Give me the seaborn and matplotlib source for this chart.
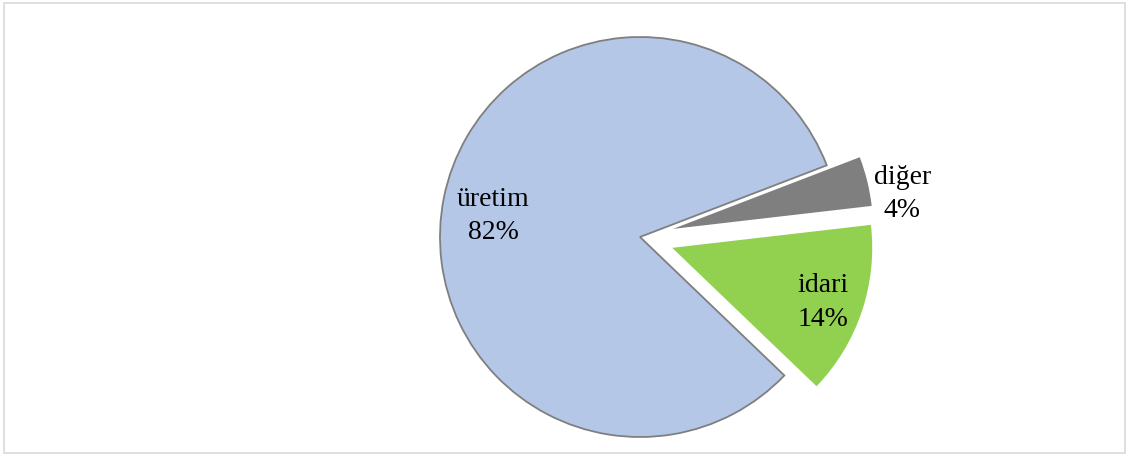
import numpy as np
import matplotlib
matplotlib.use("Agg")
import matplotlib.pyplot as plt
import seaborn as sns
from matplotlib.patches import Rectangle

# veriler
labels = ["üretim", "idari", "diğer"]
values = [82, 14, 4]
colors = ["#b4c7e7", "#92d050", "#7f7f7f"]
explode = [0, 0.17, 0.17]
label_dist = [0.74, 0.80, 1.16]
label_rot = [3.3, -1.3, -5.2]   # etiket açısı düzeltmesi (derece)

sns.set_theme(style="white")
plt.rcParams["font.family"] = ["Liberation Serif", "DejaVu Serif"]

W, H, dpi = 1127, 455, 100
fig = plt.figure(figsize=(W / dpi, H / dpi), dpi=dpi)
ax = fig.add_axes([0, 0, 1, 1])

wedges, _ = ax.pie(values, colors=colors, explode=explode, startangle=21,
                   counterclock=True, radius=1)

# sadece üretim diliminde gri kenar
wedges[0].set_edgecolor("#7f7f7f")
wedges[0].set_linewidth(1.3)
for w in wedges[1:]:
    w.set_edgecolor("none")

total = sum(values)
for w, lab, v, d, rot in zip(wedges, labels, values, label_dist, label_rot):
    ang = np.deg2rad((w.theta1 + w.theta2) / 2 + rot)
    cx, cy = w.center
    x = cx + d * w.r * np.cos(ang)
    y = cy + d * w.r * np.sin(ang)
    ax.text(x, y, f"{lab}\n{round(100 * v / total)}%", ha="center", va="center",
            fontsize=20, color="black", linespacing=1.45)

# pasta merkezi ~ (640, 237) px, yarıçap ~ 200 px
r_px, cx_px, cy_px = 200, 640, 237
ax.set_aspect("auto")
ax.set_xlim(-cx_px / r_px, (W - cx_px) / r_px)
ax.set_ylim(-(H - cy_px) / r_px, cy_px / r_px)
ax.axis("off")

fig.patches.append(Rectangle((4 / W, 2 / H), (W - 6) / W, (H - 5) / H,
                             transform=fig.transFigure, fill=False,
                             edgecolor="#d9d9d9", linewidth=1.2))

fig.savefig("out.png", dpi=dpi, facecolor="white")
